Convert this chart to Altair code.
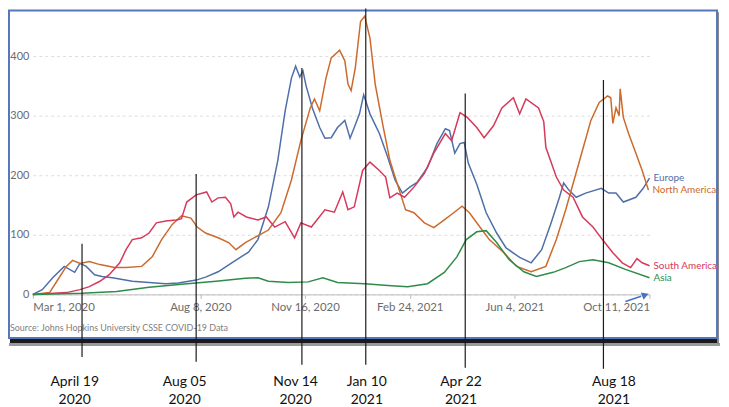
import altair as alt
import pandas as pd

START = pd.Timestamp("2020-03-01")

# x positions are "days since 2020-03-01", values are cases per million
eu_day = [0, 9, 19, 30, 40, 45, 51, 59, 66, 76, 95, 111, 127, 139, 156, 165, 177, 190, 206, 215,
          225, 234, 241, 247, 251, 255, 258, 261, 267, 274, 279, 285, 291, 298, 303, 307, 312, 316, 322, 331,
          339, 346, 353, 360, 367, 377, 386, 394, 398, 403, 408, 412, 416, 424, 433, 443, 452, 465, 476, 486,
          495, 503, 507, 512, 519, 528, 543, 550, 557, 564, 576, 583, 589]
eu_val = [0, 8, 28, 47, 37, 52, 47, 33, 30, 28, 22, 20, 18, 19, 24, 29, 38, 53, 71, 92,
          147, 225, 308, 363, 383, 365, 375, 350, 313, 280, 262, 263, 280, 292, 262, 280, 303, 335, 303, 270,
          230, 192, 170, 180, 188, 213, 253, 278, 275, 237, 253, 255, 220, 185, 137, 103, 78, 62, 53, 75,
          120, 163, 187, 175, 163, 170, 178, 170, 170, 155, 163, 178, 195]

na_day = [0, 16, 24, 32, 38, 45, 54, 64, 70, 78, 89, 104, 114, 123, 133, 142, 151, 157, 165, 177,
          187, 194, 203, 225, 237, 247, 256, 265, 269, 274, 280, 285, 293, 298, 301, 304, 308, 313, 317, 322,
          327, 334, 341, 350, 356, 364, 374, 383, 393, 402, 410, 417, 427, 436, 450, 462, 476, 490, 500, 509,
          517, 525, 533, 541, 549, 552, 554, 557, 560, 561, 564, 569, 576, 582, 588]
na_val = [0, 3, 25, 47, 57, 52, 55, 50, 48, 45, 45, 47, 63, 92, 117, 132, 128, 113, 103, 95,
          87, 75, 87, 108, 137, 192, 258, 313, 328, 308, 363, 397, 410, 392, 353, 342, 380, 458, 467, 430,
          353, 287, 225, 175, 142, 137, 120, 112, 125, 137, 148, 137, 113, 92, 70, 47, 38, 47, 92, 142,
          192, 242, 292, 322, 333, 330, 287, 313, 300, 345, 297, 270, 237, 208, 175]

sa_day = [0, 32, 45, 54, 64, 73, 83, 89, 95, 104, 111, 118, 127, 137, 142, 147, 156, 166, 171, 177,
          184, 189, 192, 196, 204, 215, 223, 231, 241, 250, 256, 266, 279, 288, 296, 301, 307, 315, 322, 331,
          337, 341, 348, 355, 364, 374, 383, 394, 400, 408, 415, 424, 431, 440, 448, 459, 465, 471, 483, 488,
          490, 500, 507, 516, 525, 535, 544, 554, 563, 571, 577, 582, 589]
sa_val = [0, 3, 8, 13, 22, 33, 53, 75, 92, 95, 103, 120, 123, 125, 127, 155, 167, 172, 155, 162,
          163, 152, 130, 138, 130, 125, 130, 113, 122, 95, 120, 113, 142, 138, 172, 142, 147, 208, 222, 208,
          197, 162, 170, 163, 180, 203, 237, 270, 258, 305, 297, 280, 263, 283, 313, 330, 303, 328, 313, 290,
          247, 197, 175, 163, 130, 113, 92, 70, 53, 45, 60, 53, 48]

as_day = [0, 47, 80, 111, 142, 175, 203, 215, 225, 244, 263, 277, 291, 317, 339, 358, 377, 393, 405, 414,
          424, 433, 443, 455, 469, 481, 497, 509, 522, 535, 550, 566, 589]
as_val = [0, 2, 5, 12, 17, 22, 27, 28, 22, 20, 21, 28, 20, 18, 15, 13, 18, 37, 63, 92,
          105, 107, 87, 58, 38, 30, 37, 45, 55, 58, 53, 42, 28]

regions = ["Europe", "North America", "South America", "Asia"]
colors = ["#4F6FA8", "#CC6A2C", "#D6395A", "#2E8C48"]

# annotations (vertical marker lines drawn over the screenshot)
ann_line1 = ["April 19", "Aug 05", "Nov 14", "Jan 10", "Apr 22", "Aug 18"]
ann_line2 = ["2020", "2020", "2020", "2021", "2021", "2021"]
ann_day = [47, 156, 257, 318, 413, 545]
ann_top = [85, 202, 380, 480, 337, 360]
ann_bottom = [-105, -113, -118, -118, -123, -125]
ann_label_day = [40, 145, 251, 319, 409, 555]

tick_dates = ["2020-03-01", "2020-08-08", "2020-11-16", "2021-02-24", "2021-06-04", "2021-10-11"]
source_text = "Source: Johns Hopkins University CSSE COVID-19 Data"


def to_dates(days):
    return [START + pd.Timedelta(days=int(d)) for d in days]


series = []
for name, d, v in [("Europe", eu_day, eu_val), ("North America", na_day, na_val),
                   ("South America", sa_day, sa_val), ("Asia", as_day, as_val)]:
    series.append(pd.DataFrame({"date": to_dates(d), "value": v, "region": name}))
lines_df = pd.concat(series, ignore_index=True)
last_df = pd.concat([s.tail(1) for s in series], ignore_index=True)

ann_df = pd.DataFrame({"date": to_dates(ann_day), "value": ann_top, "value2": ann_bottom})
lab1_df = pd.DataFrame({"date": to_dates(ann_label_day), "value": [-147] * 6, "t": ann_line1})
lab2_df = pd.DataFrame({"date": to_dates(ann_label_day), "value": [-178] * 6, "t": ann_line2})
arrow_df = pd.DataFrame({"date": to_dates([566]), "value": [-12], "date2": to_dates([581]), "value2": [-3]})
head_df = pd.DataFrame({"date": to_dates([585]), "value": [-1]})
one = pd.DataFrame({"a": [1]})

def dt(s):
    t = pd.Timestamp(s)
    return alt.DateTime(year=t.year, month=t.month, date=t.day)

X = alt.X("date:T", title=None,
          scale=alt.Scale(domain=[dt("2020-03-01"), dt("2021-10-11")]),
          axis=alt.Axis(values=[dt(s) for s in tick_dates], format="%b %-d, %Y", labelFlush=True,
                        grid=False, domainColor="#bbbbbb", tickColor="#bbbbbb", tickSize=4,
                        labelPadding=3, labelColor="#6b6b6b", labelFont="Lato", labelFontSize=11.5))
Y = alt.Y("value:Q", title=None,
          scale=alt.Scale(domain=[0, 400], nice=False, zero=False),
          axis=alt.Axis(values=[0, 100, 200, 300, 400], grid=True, gridDash=[3, 3], gridColor="#dddddd",
                        domain=False, ticks=False, labelPadding=4, labelColor="#6b6b6b",
                        labelFont="Lato", labelFontSize=11))
color = alt.Color("region:N", scale=alt.Scale(domain=regions, range=colors), legend=None)

shadow_bottom = alt.Chart(one).mark_rect(fill="#1b1b1b").encode(
    x=alt.value(-23), x2=alt.value(691), y=alt.value(284), y2=alt.value(290))
shadow_soft = alt.Chart(one).mark_rect(fill="#9a9a9a").encode(
    x=alt.value(-24), x2=alt.value(692), y=alt.value(289), y2=alt.value(292))
shadow_right = alt.Chart(one).mark_rect(fill="#8a8a8a").encode(
    x=alt.value(689), x2=alt.value(691), y=alt.value(-44), y2=alt.value(290))
frame = alt.Chart(one).mark_rect(fillOpacity=0, stroke="#5677BE", strokeWidth=2).encode(
    x=alt.value(-24), x2=alt.value(689), y=alt.value(-46), y2=alt.value(284))

lines = alt.Chart(lines_df).mark_line(strokeWidth=1.5).encode(x=X, y=Y, color=color, detail="region:N")
ends = alt.Chart(last_df).mark_text(align="left", baseline="middle", dx=4, font="Lato", fontSize=10).encode(
    x=X, y=Y, text="region:N", color=color)

source = alt.Chart(one).mark_text(align="left", baseline="alphabetic", font="Lato", fontSize=9,
                                  color="#808080").encode(
    x=alt.value(-23), y=alt.value(277), text=alt.value(source_text))

rules = alt.Chart(ann_df).mark_rule(color="#1a1a1a", strokeWidth=1.2).encode(x=X, y=Y, y2="value2:Q")
lab1 = alt.Chart(lab1_df).mark_text(font="Lato", fontSize=14, color="#111111", baseline="middle").encode(
    x=X, y=Y, text="t:N")
lab2 = alt.Chart(lab2_df).mark_text(font="Lato", fontSize=14, color="#111111", baseline="middle").encode(
    x=X, y=Y, text="t:N")

arrow = alt.Chart(arrow_df).mark_rule(color="#4472C4", strokeWidth=1.5).encode(
    x=X, y=Y, x2="date2:T", y2="value2:Q")
head = alt.Chart(head_df).mark_point(shape="triangle-right", filled=True, color="#4472C4", size=60,
                                     angle=339, opacity=1).encode(x=X, y=Y)

chart = alt.layer(shadow_bottom, shadow_soft, shadow_right, frame, lines, ends, source, rules, lab1, lab2,
                  arrow, head).properties(
    width=621, height=240,
    padding={"left": 25, "top": 47, "right": 72, "bottom": 112},
    autosize=alt.AutoSizeParams(type="none"),
    background="white",
).configure_view(stroke=None)

chart.save("out.html", embed_options={"renderer": "svg", "actions": False})
